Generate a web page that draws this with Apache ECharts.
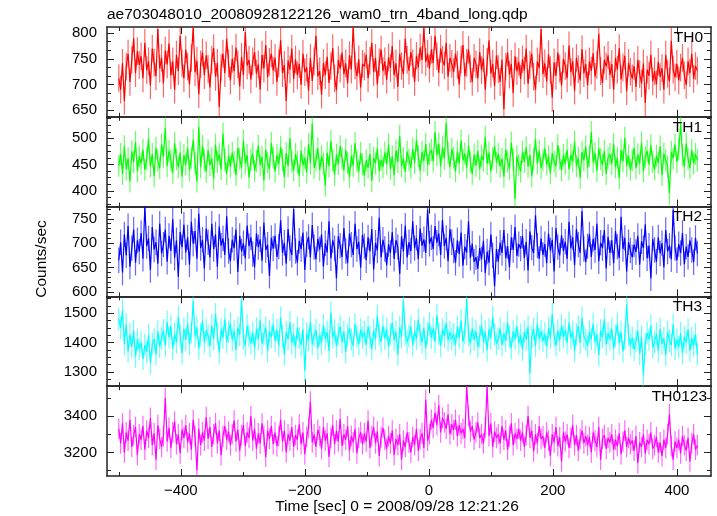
<!DOCTYPE html>
<html><head><meta charset="utf-8">
<script src="https://cdn.jsdelivr.net/npm/echarts@6/dist/echarts.min.js"></script>
<style>html,body{margin:0;padding:0;background:#fff}#c{width:717px;height:516px}</style>
</head><body><div id="c"></div>
<script>
// time of first bin and bin step (sec)
const T_START = -500, T_STEP = 3;

const th0 = [
712,690,742,668,735,760,705,748,790,722,765,738,
755,712,781,728,745,698,770,742,716,808,731,752,
702,766,739,780,718,745,690,758,726,795,741,712,
768,735,700,752,810,724,746,681,739,762,718,757,
730,694,748,771,715,742,656,733,760,722,789,741,
708,750,726,772,739,696,754,718,802,737,748,710,
745,763,721,739,690,758,731,777,714,744,760,727,
752,705,741,786,722,738,668,747,729,770,711,749,
718,740,699,760,724,733,688,752,707,745,795,716,
726,680,742,718,754,703,736,771,712,689,748,731,
762,720,741,702,757,729,812,737,716,749,694,740,
735,758,712,746,781,724,752,700,743,768,726,745,
709,753,732,775,718,741,695,760,736,720,789,748,
727,763,741,705,756,733,772,748,810,744,760,731,
768,742,795,755,723,770,748,737,781,715,752,740,
724,760,738,700,749,777,716,742,768,730,705,752,
739,712,763,728,751,690,744,786,721,740,697,757,
730,705,748,652,735,762,719,740,683,755,726,744,
711,749,727,770,701,738,760,715,690,745,732,808,
720,741,706,759,728,674,743,717,762,731,698,750,
736,712,776,724,745,688,752,730,708,769,722,740,
698,745,727,761,715,738,799,726,703,748,735,757,
718,740,690,752,729,771,710,733,756,687,742,725,
712,736,695,748,720,702,741,664,729,717,758,706,
726,700,744,715,732,690,758,721,706,785,729,714,
740,708,733,752,718,699,745,722,760,711,736,727];

const th1 = [
448,470,432,485,441,462,418,475,455,493,437,466,
452,478,440,461,499,446,470,428,482,457,443,488,
465,520,447,476,458,434,491,460,445,473,427,468,
450,482,439,463,497,452,418,522,445,486,458,436,
477,449,462,423,488,455,470,441,509,459,432,467,
446,473,455,430,482,461,444,496,452,468,425,459,
471,438,457,486,449,465,420,478,454,442,491,463,
437,468,451,484,459,426,472,447,500,456,439,470,
455,428,476,449,463,435,489,452,528,444,458,481,
440,466,452,410,473,447,495,458,431,469,451,485,
462,439,478,453,426,467,448,491,456,437,472,450,
429,458,444,470,419,463,452,481,438,459,445,473,
451,488,442,466,430,477,455,505,447,462,436,475,
459,444,480,453,497,466,438,474,457,489,449,470,
478,456,512,468,490,447,483,461,529,472,445,480,
463,437,475,452,496,458,471,444,486,455,432,469,
448,476,441,467,458,503,451,473,437,462,485,454,
470,446,461,427,479,456,442,492,459,384,466,449,
437,474,455,483,446,468,428,461,498,452,476,443,
459,481,450,466,433,472,456,447,487,461,439,468,
452,478,441,469,456,494,447,463,425,474,458,485,
444,466,512,455,472,438,481,460,449,476,432,463,
470,451,489,445,463,424,478,456,501,448,467,440,
458,482,443,469,452,492,437,464,476,450,487,455,
441,467,453,485,430,471,458,446,395,474,462,488,
455,479,527,468,446,490,461,443,478,452,470,458];

const th2 = [
665,702,640,718,675,735,652,690,728,660,706,683,
721,668,775,694,710,645,733,687,702,658,740,679,
697,728,662,715,684,749,670,706,631,723,692,738,
681,712,656,744,699,725,668,761,690,707,648,730,
702,671,740,688,718,652,734,695,710,676,755,684,
663,707,690,728,641,715,683,700,669,736,694,712,
678,651,720,692,708,664,742,686,697,633,711,689,
715,672,693,747,680,701,658,729,690,676,770,684,
660,705,688,722,645,698,713,671,737,692,667,709,
687,718,652,700,681,745,669,706,690,628,714,695,
672,731,684,659,720,697,676,740,688,703,650,717,
694,665,712,683,729,646,701,685,752,671,707,688,
655,698,680,723,668,706,692,637,714,683,736,671,
702,684,745,690,711,667,730,695,708,680,769,699,
712,688,735,701,720,676,748,694,711,663,729,702,
685,660,706,678,722,654,693,681,745,670,699,662,
671,648,690,667,705,639,683,660,718,675,612,688,
662,701,680,727,669,694,651,712,686,733,674,698,
689,715,670,703,644,724,691,680,757,695,668,710,
676,698,659,720,685,707,642,731,692,675,716,684,
703,668,744,690,712,655,729,697,680,766,688,661,
694,718,672,709,686,740,663,701,690,727,648,713,
680,706,659,725,693,670,754,688,711,642,702,685,
671,697,682,715,656,704,690,738,669,695,628,709,
686,662,712,679,700,651,727,683,695,667,769,690,
665,698,680,721,657,693,672,706,686,661,711,679];

const th3 = [
1480,1450,1510,1395,1462,1370,1428,1385,1440,1352,1410,1378,
1401,1345,1392,1368,1425,1330,1396,1412,1360,1438,1387,1415,
1442,1390,1471,1418,1456,1379,1430,1402,1488,1425,1364,1447,
1410,1466,1395,1435,1540,1420,1452,1380,1428,1474,1401,1443,
1423,1388,1459,1412,1497,1431,1366,1445,1418,1480,1402,1437,
1465,1409,1440,1375,1451,1426,1545,1414,1390,1458,1422,1398,
1434,1380,1447,1411,1476,1396,1428,1452,1372,1439,1419,1462,
1405,1443,1390,1484,1421,1360,1436,1412,1470,1398,1428,1384,
1450,1416,1392,1446,1305,1431,1408,1472,1395,1423,1443,1381,
1426,1398,1460,1412,1436,1372,1502,1419,1441,1387,1428,1455,
1401,1437,1368,1426,1448,1410,1389,1463,1421,1395,1444,1417,
1436,1392,1454,1420,1378,1442,1412,1490,1427,1403,1457,1414,
1446,1385,1428,1468,1409,1437,1360,1452,1420,1544,1431,1402,
1423,1455,1391,1439,1413,1478,1426,1401,1450,1380,1432,1465,
1416,1448,1402,1493,1430,1389,1445,1421,1467,1408,1436,1412,
1429,1391,1454,1418,1476,1403,1433,1550,1426,1397,1448,1410,
1440,1385,1421,1460,1402,1437,1374,1446,1415,1487,1428,1396,
1413,1448,1392,1431,1406,1469,1420,1381,1438,1412,1456,1398,
1426,1376,1437,1410,1454,1295,1420,1447,1388,1465,1412,1439,
1405,1430,1385,1449,1417,1498,1424,1390,1441,1408,1459,1420,
1443,1400,1468,1415,1437,1372,1428,1456,1399,1485,1421,1410,
1389,1436,1412,1464,1402,1427,1358,1441,1418,1479,1395,1432,
1411,1447,1380,1422,1463,1398,1436,1370,1414,1530,1425,1391,
1418,1376,1405,1440,1362,1421,1290,1395,1433,1410,1458,1383,
1402,1430,1371,1447,1396,1415,1358,1436,1408,1392,1462,1379,
1410,1385,1432,1364,1420,1401,1445,1373,1415,1390,1428,1360];

const th0123 = [
3330,3250,3360,3200,3310,3265,3380,3230,3295,3340,3185,3300,
3270,3345,3215,3320,3280,3390,3240,3305,3160,3350,3275,3230,
3290,3500,3260,3335,3225,3310,3370,3245,3300,3195,3325,3280,
3350,3255,3305,3215,3380,3290,3100,3330,3240,3310,3265,3395,
3275,3340,3230,3300,3360,3250,3320,3185,3290,3345,3270,3315,
3240,3300,3375,3260,3325,3210,3295,3350,3235,3310,3280,3400,
3265,3330,3220,3305,3250,3360,3290,3175,3320,3275,3345,3245,
3310,3235,3290,3380,3260,3320,3200,3300,3265,3340,3230,3295,
3270,3355,3245,3310,3190,3285,3335,3480,3255,3300,3230,3325,
3290,3220,3340,3265,3305,3175,3280,3350,3245,3320,3260,3385,
3235,3300,3270,3345,3210,3290,3255,3330,3195,3280,3310,3245,
3305,3260,3375,3225,3290,3340,3250,3315,3180,3285,3335,3270,
3220,3290,3250,3320,3185,3275,3240,3300,3160,3265,3230,3310,
3255,3200,3285,3240,3330,3210,3275,3305,3225,3490,3265,3300,
3380,3335,3420,3350,3460,3310,3390,3365,3330,3410,3300,3355,
3325,3380,3290,3350,3305,3330,3280,3565,3400,3315,3345,3270,
3310,3365,3280,3300,3250,3335,3565,3290,3360,3230,3315,3280,
3300,3250,3345,3270,3320,3215,3290,3360,3240,3305,3275,3330,
3265,3310,3230,3295,3400,3280,3320,3205,3300,3250,3345,3275,
3290,3225,3310,3265,3180,3300,3255,3340,3235,3285,3150,3310,
3260,3300,3225,3280,3350,3240,3295,3210,3275,3320,3250,3290,
3240,3285,3200,3310,3265,3230,3340,3160,3275,3295,3220,3280,
3255,3300,3215,3270,3235,3305,3190,3260,3320,3230,3280,3245,
3265,3210,3290,3140,3255,3230,3300,3195,3270,3245,3310,3220,
3240,3285,3200,3255,3180,3270,3225,3300,3410,3235,3160,3260,
3225,3270,3195,3290,3240,3210,3280,3150,3250,3300,3215,3240];

// typical 1-sigma error bar per band (counts/sec)
const bandErr = [27, 21, 26, 38, 57];

const bandNames = ['TH0','TH1','TH2','TH3','TH0123'];
const xTickMajor = [-400,-200,0,200,400];
const xTickMinor = [-500,-300,-100,100,300];
const xTickLabels = [-400,-200,0,200,400];
const yTickLabels = [[650,700,750,800],[400,450,500],[600,650,700,750],[1300,1400,1500],[3200,3400]];

// ---- layout / style ----
const series = [th0, th1, th2, th3, th0123];
const colors = ['#ff0000','#00ff00','#0000ff','#00ffff','#ff00ff'];
const yMin = [637,370,591,1252,3070];
const yMax = [812,541,775,1557,3565];
const yMinorStep = [50/3,12.5,10,25,100];
const X_MIN = -519, X_MAX = 455;
const GL = 107, GR = 6, GT = 27, GH = 89.8;
const FONT = '"Liberation Sans", Arial, Helvetica, sans-serif';
const AX = '#222';
const labelRight = [703,702,702,702,707];

function fmt(v){ return v < 0 ? '\u2212' + Math.abs(v) : String(v); }
function minorTicks(p){
  const out=[]; const s=yMinorStep[p];
  const start=Math.ceil(yMin[p]/s - 1e-9);
  for(let k=start; k*s<=yMax[p]+1e-9; k++){
    const v=k*s;
    if(!yTickLabels[p].some(m=>Math.abs(m-v)<1e-6)) out.push(v);
  }
  return out;
}

const grids=[], xAxes=[], yAxes=[], seriesOpt=[], graphics=[];
for(let p=0;p<5;p++){
  grids.push({left:GL, right:GR, top:GT+p*GH, height:GH, containLabel:false});
  const xBase = (pos, ticks, len, lineShow, labels) => ({
    type:'value', gridIndex:p, min:X_MIN, max:X_MAX, position:pos,
    axisLine:{show:lineShow, onZero:false, lineStyle:{color:AX, width:1.5}},
    axisTick:{show:true, inside:true, length:len, customValues:ticks, lineStyle:{color:AX, width:1}},
    axisLabel:{show:labels, customValues:xTickLabels, formatter:fmt, fontFamily:FONT, fontSize:15, color:'#000', margin:7},
    splitLine:{show:false}
  });
  xAxes.push(xBase('bottom', xTickMajor, 7, true, p===4));
  xAxes.push(xBase('top', xTickMajor, 7, true, false));
  xAxes.push(xBase('bottom', xTickMinor, 4, false, false));
  xAxes.push(xBase('top', xTickMinor, 4, false, false));
  const yBase = (pos, ticks, len, lineShow, labels) => ({
    type:'value', gridIndex:p, min:yMin[p], max:yMax[p], position:pos,
    axisLine:{show:lineShow, onZero:false, lineStyle:{color:AX, width:1.5}},
    axisTick:{show:true, inside:true, length:len, customValues:ticks, lineStyle:{color:AX, width:1}},
    axisLabel:{show:labels, customValues:yTickLabels[p], formatter:fmt, fontFamily:FONT, fontSize:15, color:'#000', margin:10},
    splitLine:{show:false}
  });
  const mt = minorTicks(p);
  yAxes.push(yBase('left', yTickLabels[p], 7, true, true));
  yAxes.push(yBase('right', yTickLabels[p], 7, true, false));
  yAxes.push(yBase('left', mt, 4, false, false));
  yAxes.push(yBase('right', mt, 4, false, false));

  const data = series[p].map((v,i)=>[T_START + i*T_STEP, v]);
  const err = bandErr[p], col = colors[p];
  seriesOpt.push({type:'custom', xAxisIndex:4*p, yAxisIndex:4*p, data, silent:true, clip:true, z:2,
    renderItem:(params, api)=>{
      const x=api.value(0), y=api.value(1);
      const a=api.coord([x,y-err]), b=api.coord([x,y+err]);
      return {type:'line', shape:{x1:a[0],y1:a[1],x2:b[0],y2:b[1]}, style:{stroke:col, lineWidth:1.2, opacity:0.6}};
    }});
  seriesOpt.push({type:'line', xAxisIndex:4*p, yAxisIndex:4*p, data, showSymbol:false, symbol:'none',
    lineStyle:{color:col, width:1.2}, silent:true, z:3});

  graphics.push({type:'text', z:10,
    style:{text:bandNames[p], x:labelRight[p], y:GT+p*GH+10.5, align:'right', verticalAlign:'middle', font:'15.5px '+FONT, fill:'#000'}});
}

graphics.push({type:'text', z:10, style:{text:'ae703048010_20080928122126_wam0_trn_4band_long.qdp', x:107, y:15, align:'left', verticalAlign:'middle', font:'15.5px '+FONT, fill:'#000'}});
graphics.push({type:'text', z:10, style:{text:'Time [sec] 0 = 2008/09/28 12:21:26', x:397, y:507, align:'center', verticalAlign:'middle', font:'15.5px '+FONT, fill:'#000'}});
graphics.push({type:'text', z:10, x:42, y:259, rotation:Math.PI/2, style:{text:'Counts/sec', x:0, y:0, align:'center', verticalAlign:'middle', font:'15.5px '+FONT, fill:'#000'}});

const chart = echarts.init(document.getElementById('c'), null, {renderer:'canvas'});
chart.setOption({
  animation:false,
  backgroundColor:'#fff',
  grid:grids, xAxis:xAxes, yAxis:yAxes, series:seriesOpt, graphic:graphics
});
</script></body></html>
